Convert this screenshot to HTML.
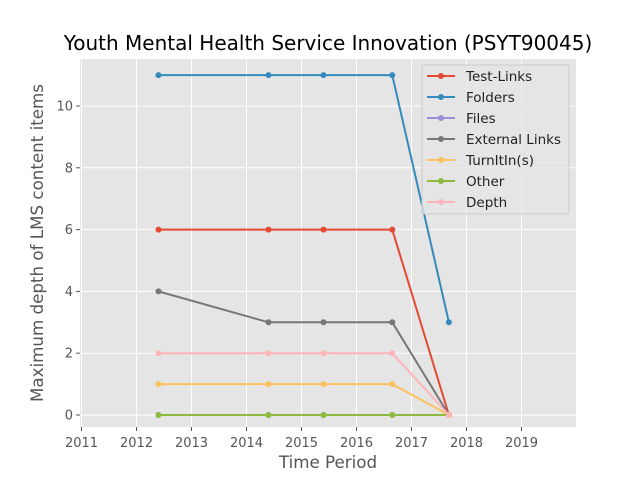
<!DOCTYPE html>
<html><head><meta charset="utf-8"><style>
body{margin:0;background:#fff}
svg text{font-family:"DejaVu Sans","Liberation Sans",sans-serif}
</style></head><body>
<svg id="c" width="640" height="480">
<rect x="0" y="0" width="640" height="480" fill="#fff"/>
</svg>
<script>
const xValues=[2012.4,2014.4,2015.4,2016.65,2017.68];
const seriesNames=["Test-Links","Folders","Files","External Links","TurnItIn(s)","Other","Depth"];
const testLinks=[6,6,6,6,0];
const folders=[11,11,11,11,3];
const files=[0,0,0,0,0];
const externalLinks=[4,3,3,3,0];
const turnitin=[1,1,1,1,0];
const other=[0,0,0,0,0];
const depth=[2,2,2,2,0];
const xTicks=[2011,2012,2013,2014,2015,2016,2017,2018,2019];
const yTicks=[0,2,4,6,8,10];
const colors=["#E24A33","#348ABD","#988ED5","#777777","#FBC15E","#8EBA42","#FFB5B8"];
const allSeries=[testLinks,folders,files,externalLinks,turnitin,other,depth];
const L=80,R=576,T=59,B=427;
const x=v=>81.5+(v-2011)*55;
const y=v=>415-v*30.9;
const ns="http://www.w3.org/2000/svg";
const svg=document.getElementById('c');
function mk(t,a,parent){const e=document.createElementNS(ns,t);for(const k in a)e.setAttribute(k,a[k]);(parent||svg).appendChild(e);return e;}
const bg=mk('rect',{x:L,y:T,width:R-L,height:B-T,fill:'#E5E5E5'});


xTicks.forEach(t=>{const X=x(t);
 const g=mk('line',{x1:X,x2:X,y1:T,y2:B,stroke:'#fff','stroke-width':1});
 
 
 mk('line',{x1:X,x2:X,y1:B,y2:B+4,stroke:'#555'});
 const tx=mk('text',{x:X,y:B+20,'text-anchor':'middle','font-size':13,fill:'#555'});tx.textContent=t;
 
 
});
yTicks.forEach(t=>{const Y=y(t);
 const g=mk('line',{x1:L,x2:R,y1:Y,y2:Y,stroke:'#fff','stroke-width':1});
 
 
 mk('line',{x1:L-4,x2:L,y1:Y,y2:Y,stroke:'#555'});
 const tx=mk('text',{x:L-7,y:Y+4.5,'text-anchor':'end','font-size':13,fill:'#555'});tx.textContent=t;
 
 
});
allSeries.forEach((s,i)=>{
 const pts=s.map((v,j)=>x(xValues[j])+','+y(v)).join(' ');
 const pl=mk('polyline',{points:pts,fill:'none',stroke:colors[i],'stroke-width':2});
 
 
 s.forEach((v,j)=>{const c=mk('circle',{cx:x(xValues[j]),cy:y(v),r:3,fill:colors[i]});
  
  });
});
const lg=mk('rect',{x:422,y:65,width:147,height:149,fill:'#E5E5E5',stroke:'#ccc',rx:2,'fill-opacity':0.8});


seriesNames.forEach((n,i)=>{const Y=76+i*21;
 mk('line',{x1:427,x2:455,y1:Y,y2:Y,stroke:colors[i],'stroke-width':2});
 mk('circle',{cx:441,cy:Y,r:3,fill:colors[i]});
 const tx=mk('text',{x:466,y:Y+5,'font-size':13.5,fill:'#222'});tx.textContent=n;
 
 
});
</script>
<div style="position:absolute;left:0;top:0;width:640px;height:480px;pointer-events:none">
<svg width="640" height="480">
<text x="328" y="50" text-anchor="middle" font-size="20" fill="#000" style="font-family:'DejaVu Sans',sans-serif">Youth Mental Health Service Innovation (PSYT90045)</text>
<text x="328" y="468" text-anchor="middle" font-size="16.7" fill="#555" style="font-family:'DejaVu Sans',sans-serif">Time Period</text>
<text transform="translate(43,243) rotate(-90)" text-anchor="middle" font-size="16.7" fill="#555" style="font-family:'DejaVu Sans',sans-serif">Maximum depth of LMS content items</text>
</svg></div>
</body></html>
